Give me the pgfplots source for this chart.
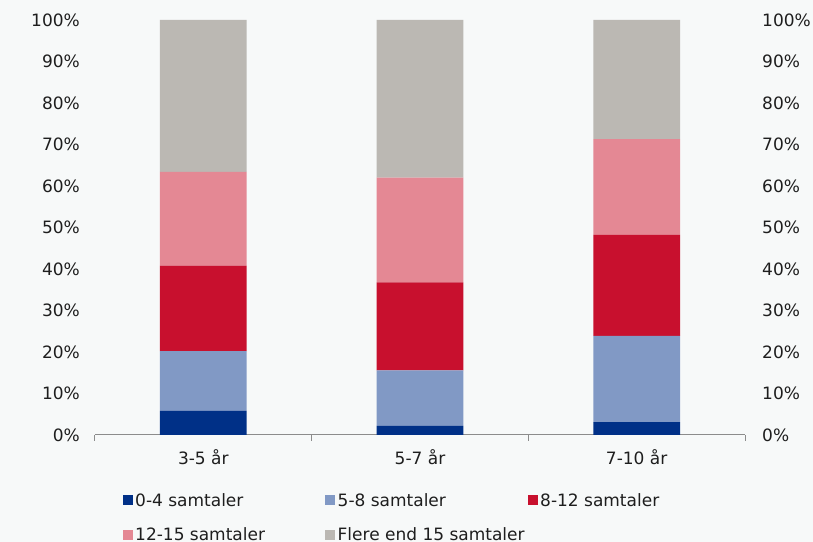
\documentclass[border=0pt]{standalone}
\usepackage{pgfplots}
\pgfplotsset{compat=1.18}
\usepackage{fontspec}
\setmainfont{DejaVu Sans}
\usetikzlibrary{backgrounds}
\definecolor{bgc}{RGB}{247,249,249}
\definecolor{c1}{RGB}{0,48,135}
\definecolor{c2}{RGB}{129,153,197}
\definecolor{c3}{RGB}{200,16,46}
\definecolor{c4}{RGB}{228,136,148}
\definecolor{c5}{RGB}{187,184,179}
\definecolor{axc}{RGB}{140,140,140}
\definecolor{txt}{RGB}{30,30,30}
\pgfplotstableread{
x a b c d e
0 5.8 14.4 20.6 22.6 36.6
1 2.2 13.4 21.2 25.2 38.0
2 3.1 20.8 24.3 23.1 28.7
}\data
\newcommand{\f}{\fontsize{17pt}{20pt}\selectfont}
\begin{document}
\begin{tikzpicture}
\begin{axis}[name=ax,
  scale only axis, width=650pt, height=415pt,
  xmin=-0.5, xmax=2.5, ymin=0, ymax=100,
  ybar stacked, bar width=0.4,
  xtick={0,1,2}, xticklabels={3-5 år,5-7 år,7-10 år},
  minor xtick={-0.5,0.5,1.5,2.5},
  ytick={0,10,...,100},
  /pgf/number format/assume math mode=true,
  yticklabel={\pgfmathprintnumber{\tick}\%},
  axis x line*=bottom, axis y line*=left,
  y axis line style={draw=none},
  x axis line style={draw=axc, line width=1pt},
  major tick length=0pt, minor tick length=6pt, tick align=outside,
  minor tick style={draw=axc, line width=1pt},
  ytick style={draw=none},
  ticklabel style={font=\f, text=txt},
  yticklabel style={anchor=east, inner sep=0pt, xshift=-15pt},
  xticklabel style={anchor=base, inner sep=0pt, yshift=-30pt},
  legend columns=3,
  legend cell align=left,
  legend style={at={(axis description cs:0.0426,-0.14)}, anchor=north west,
    draw=none, fill=none, inner sep=0pt, outer sep=0pt, font=\f, text=txt,
    row sep=20pt,
    nodes={inner sep=0pt},
    /tikz/every odd column/.append style={column sep=2.5pt}},
  legend image code/.code={\fill[#1] (0pt,-5pt) rectangle (10pt,5pt);},
]
\addplot[fill=c1, draw=none] table[x=x, y=a] {\data};
\addlegendentry{\makebox[190pt][l]{0-4 samtaler}}
\addplot[fill=c2, draw=none] table[x=x, y=b] {\data};
\addlegendentry{\makebox[190pt][l]{5-8 samtaler}}
\addplot[fill=c3, draw=none] table[x=x, y=c] {\data};
\addlegendentry{8-12 samtaler}
\addplot[fill=c4, draw=none] table[x=x, y=d] {\data};
\addlegendentry{\makebox[190pt][l]{12-15 samtaler}}
\addplot[fill=c5, draw=none] table[x=x, y=e] {\data};
\addlegendentry{\makebox[190pt][l]{Flere end 15 samtaler}}
\end{axis}
\begin{axis}[
  scale only axis, width=650pt, height=415pt,
  xmin=-0.5, xmax=2.5, ymin=0, ymax=100,
  axis x line=none, axis y line*=right,
  y axis line style={draw=none}, ytick style={draw=none},
  ytick={0,10,...,100}, major tick length=0pt,
  /pgf/number format/assume math mode=true,
  yticklabel={\pgfmathprintnumber{\tick}\%},
  ticklabel style={font=\f, text=txt},
  yticklabel style={anchor=west, inner sep=0pt, xshift=17pt},
]
\end{axis}
\pgfresetboundingbox
\begin{scope}[on background layer]
\fill[bgc, use as bounding box] ([xshift=-95pt,yshift=-107pt]ax.south west) rectangle ([xshift=68pt,yshift=20pt]ax.north east);
\end{scope}
\end{tikzpicture}
\end{document}
